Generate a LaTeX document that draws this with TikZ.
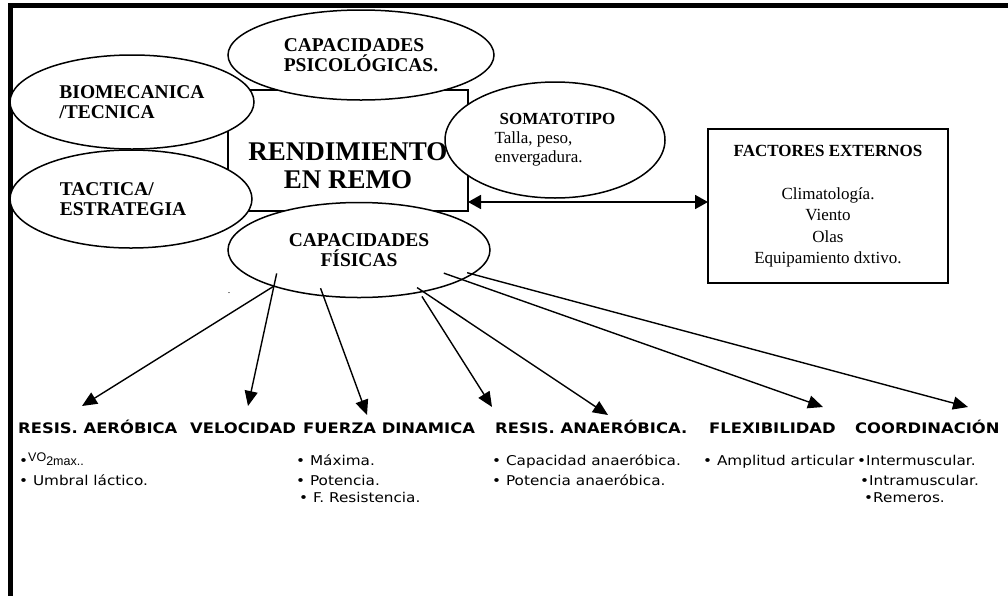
\documentclass[tikz,border=0pt]{standalone}
\usepackage{fontspec}
\setmainfont{Liberation Serif}
\newfontfamily\verdana[FakeStretch=1.13]{DejaVu Sans}
\newfontfamily\arialfont{Liberation Sans}
\usetikzlibrary{shapes.geometric,arrows.meta}

\begin{document}
\begin{tikzpicture}[x=1pt,y=-1pt,
    ovalo/.style={ellipse,draw,line width=1.5pt,fill=white,inner sep=0,outer sep=0,align=left,font=\ovalfont},
    caja/.style={rectangle,draw,line width=1.8pt,inner sep=0,outer sep=0},
    titulo/.style={anchor=base west,inner sep=0,font=\titulofont},
    vineta/.style={anchor=base west,inner sep=0,font=\vinetafont},
    flecha/.style={-{Triangle[length=15pt,width=13pt]},line width=1.4pt},
    doble/.style={{Triangle[length=13pt,width=14pt]}-{Triangle[length=13pt,width=14pt]},line width=1.8pt}]
    \providecommand{\ovalfont}{\bfseries\fontsize{19.5}{20}\selectfont}
    \providecommand{\titulofont}{\verdana\bfseries\fontsize{14.5}{16}\selectfont}
    \providecommand{\vinetafont}{\verdana\fontsize{13.5}{15}\selectfont}
    \pgfmathsetmacro{\filauno}{465}
    \pgfmathsetmacro{\filados}{485}
    \pgfmathsetmacro{\filatres}{502}
    \useasboundingbox (0,0) rectangle (1008,595);
    \draw[line width=4.5pt] (10.5,600) -- (10.5,5.5) -- (1015,5.5);
    \node[caja,minimum width=240pt,minimum height=121pt] (rend) at (348,150.5) {};
    \node[ovalo,minimum width=266pt,minimum height=90pt] (psico) at (361,55) {CAPACIDADES\\PSICOLÓGICAS.};
    \node[ovalo,minimum width=244pt,minimum height=94pt] (biomec) at (132,102) {BIOMECANICA\\/TECNICA};
    \node[ovalo,minimum width=242pt,minimum height=98pt] (tactica) at (131,199) {TACTICA/\\ESTRATEGIA\hspace*{16pt}};
    \node[ovalo,align=center,minimum width=262pt,minimum height=95pt] (fis) at (359,250) {CAPACIDADES\\FÍSICAS};
    \node[ovalo,minimum width=220pt,minimum height=116pt,font=\fontsize{17}{19}\selectfont] (soma) at (555,140)
    {\hspace*{5pt}\textbf{SOMATOTIPO}\\Talla, peso,\\envergadura.};
    \node[font=\bfseries\fontsize{27}{28}\selectfont,align=center,inner sep=0] (rendtxt) at ([yshift=-15pt]rend.center) {RENDIMIENTO\\EN REMO};
    \node[caja,minimum width=240pt,minimum height=154pt,align=center,font=\fontsize{17}{21.5}\selectfont] (fact) at (828,206)
    {\textbf{FACTORES EXTERNOS}\\[21.5pt]Climatología.\\Viento\\Olas\\Equipamiento dxtivo.};
    \draw[doble] ([yshift=4pt]fact.west) -- ([yshift=4pt]fact.west -| rend.east);
    \node[font=\fontsize{10}{10}\selectfont,inner sep=0,anchor=base] (pto) at (229,293) {.};
    % titulos
    \node[titulo] (aer) at (18,433) {RESIS. AERÓBICA};
    \node[titulo] (vel) at (190,433) {VELOCIDAD};
    \node[titulo] (fue) at (303,433) {FUERZA DINAMICA};
    \node[titulo] (ana) at (495,433) {RESIS. ANAERÓBICA.};
    \node[titulo] (fle) at (709,433) {FLEXIBILIDAD};
    \node[titulo] (coo) at (855,433) {COORDINACIÓN};
    % listas
    \node[vineta] (aer1) at (19,\filauno) {•{\arialfont\fontsize{12.5}{12}\selectfont\raisebox{4pt}{VO}2max..}};
    \node[vineta] (aer2) at (19,\filados) {• Umbral láctico.};
    \node[vineta] (fue1) at (296,\filauno) {• Máxima.};
    \node[vineta] (fue2) at (296,\filados) {• Potencia.};
    \node[vineta] (fue3) at (299,\filatres) {• F. Resistencia.};
    \node[vineta] (ana1) at (492,\filauno) {• Capacidad anaeróbica.};
    \node[vineta] (ana2) at (492,\filados) {• Potencia anaeróbica.};
    \node[vineta] (fle1) at (703,\filauno) {• Amplitud articular};
    \node[vineta] (coo1) at (857,\filauno) {•Intermuscular.};
    \node[vineta] (coo2) at (860,\filados) {•Intramuscular.};
    \node[vineta] (coo3) at (864,\filatres) {•Remeros.};
    % puntas de flecha
    \coordinate (pAer) at (82,406);
    \coordinate (pVel) at (248,406);
    \coordinate (pFue) at (367,415);
    \coordinate (pAnaA) at (492,407);
    \coordinate (pAnaB) at (608,415);
    \coordinate (pFle) at (823,407);
    \coordinate (pCoo) at (968,407);
    \draw[flecha] (fis.203) -- (pAer);
    \draw[flecha,shorten <=-13pt] (fis.203) -- (pVel);
    \draw[flecha,shorten <=-8pt] (fis.232) -- (pFue);
    \draw[flecha,shorten <=5pt] (fis.-35) -- (pAnaA);
    \draw[flecha,shorten <=-7pt] (fis.-33) -- (pAnaB);
    \draw[flecha,shorten <=-19pt] (fis.-16) -- (pFle);
    \draw[flecha,shorten <=-5pt] (fis.-12) -- (pCoo);
\end{tikzpicture}
\end{document}
